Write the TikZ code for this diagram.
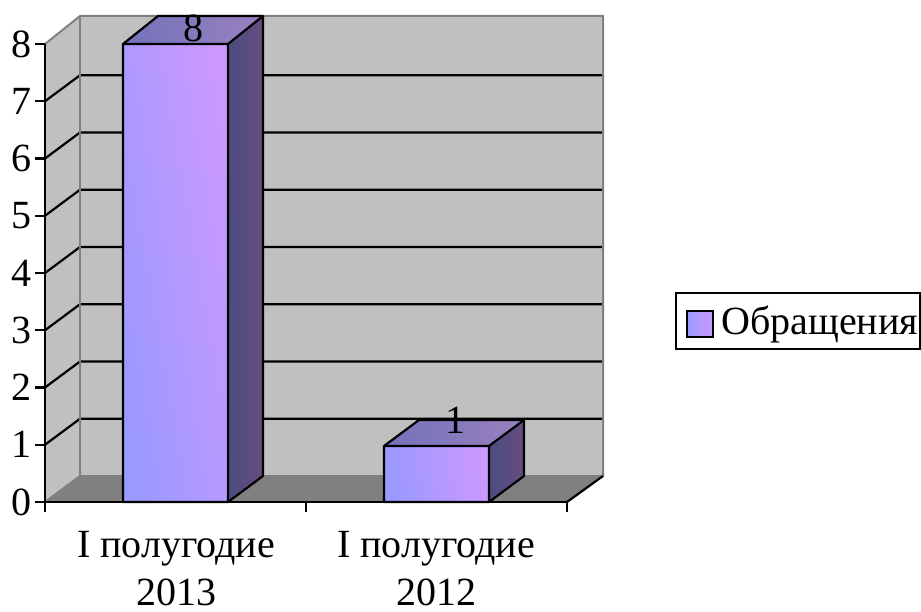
\documentclass[tikz,border=0pt]{standalone}
\usepackage{fontspec}
\setmainfont{Liberation Serif}
\begin{document}
\begin{tikzpicture}[x=1pt,y=-1pt,
  wallgray/.style={draw=gray!100!black,line width=2pt},
  gridline/.style={draw=black,line width=2.2pt},
  axisline/.style={draw=black,line width=2.2pt},
  barface/.style={draw=black,line width=2.2pt,line join=round},
  lbl/.style={font=\fontsize{40}{46}\selectfont,inner sep=0pt}]
\definecolor{wall}{HTML}{C0C0C0}
\definecolor{floorc}{HTML}{808080}
\definecolor{fa}{HTML}{9999FF}
\definecolor{fb}{HTML}{CC99FF}
\definecolor{sa}{HTML}{4C4C80}
\definecolor{sb}{HTML}{664C80}
\definecolor{ta}{HTML}{7373BA}
\definecolor{tb}{HTML}{9980C0}
\useasboundingbox (0,0) rectangle (921,612);
\fill[white] (0,0) rectangle (921,612);
% walls
\fill[wall] (45,44) -- (80,16) -- (80,476) -- (45,502) -- cycle;
\fill[wall] (80,16) rectangle (603,476);
\fill[floorc] (45,502) -- (80,476) -- (603,476) -- (567,502) -- cycle;
% grid
\foreach \k in {1,...,7}{
  \pgfmathsetmacro{\yf}{502-57.25*\k}
  \pgfmathsetmacro{\yb}{476-57.25*\k}
  \draw[gridline] (45,\yf) -- (80,\yb) -- (603,\yb);
}
\draw[wallgray] (45,44) -- (80,16) -- (603,16) -- (603,476) -- (80,476) -- (45,502);
\draw[wallgray] (80,16) -- (80,476);
\draw[axisline] (567,502) -- (603,476);
% bar 1
\shade[left color=fa,right color=fb,shading angle=100] (123,44) rectangle (228,502);
\shade[left color=sa,right color=sb] (228,44) -- (263,16) -- (263,476) -- (228,502) -- cycle;
\shade[left color=ta,right color=tb] (123,44) -- (158,16) -- (263,16) -- (228,44) -- cycle;
\draw[barface] (123,502) -- (123,44) -- (158,16) -- (263,16) -- (263,476) -- (228,502) -- cycle;
\draw[barface] (123,44) -- (228,44) -- (263,16) (228,44) -- (228,502);
% bar 2
\shade[left color=fa,right color=fb,shading angle=100] (384,446) rectangle (489,502);
\shade[left color=sa,right color=sb] (489,446) -- (524,420) -- (524,476) -- (489,502) -- cycle;
\shade[left color=ta,right color=tb] (384,446) -- (419,420) -- (524,420) -- (489,446) -- cycle;
\draw[barface] (384,502) -- (384,446) -- (419,420) -- (524,420) -- (524,476) -- (489,502) -- cycle;
\draw[barface] (384,446) -- (489,446) -- (524,420) (489,446) -- (489,502);
% axes
\draw[axisline] (45,44) -- (45,512);
\draw[axisline] (45,502) -- (567,502);
\foreach \k in {0,...,8}{
  \pgfmathsetmacro{\yt}{502-57.25*\k}
  \draw[axisline] (35,\yt) -- (45,\yt);
  \node[lbl,anchor=east] (t\k) at (32,\yt) {\k};
}
\draw[axisline] (306,502) -- (306,512);
\draw[axisline] (567,502) -- (567,512);
% value labels
\node[lbl] (v1) at (193,28) {8};
\node[lbl] (v2) at (455,420) {1};
% category labels
\node[lbl,anchor=base] (c1a) at (176,557) {I полугодие};
\node[lbl,anchor=base] (c1b) at (176,605) {2013};
\node[lbl,anchor=base] (c2a) at (436,557) {I полугодие};
\node[lbl,anchor=base] (c2b) at (436,605) {2012};
% legend
\draw[line width=2pt] (676,293) rectangle (919.5,349);
\shade[left color=fa,right color=fb] (687,311) rectangle (713,337);
\draw[line width=1.8pt] (687,311) rectangle (713,337);
\node[lbl,anchor=west] (leg) at (721,324) {Обращения};
\end{tikzpicture}
\end{document}
